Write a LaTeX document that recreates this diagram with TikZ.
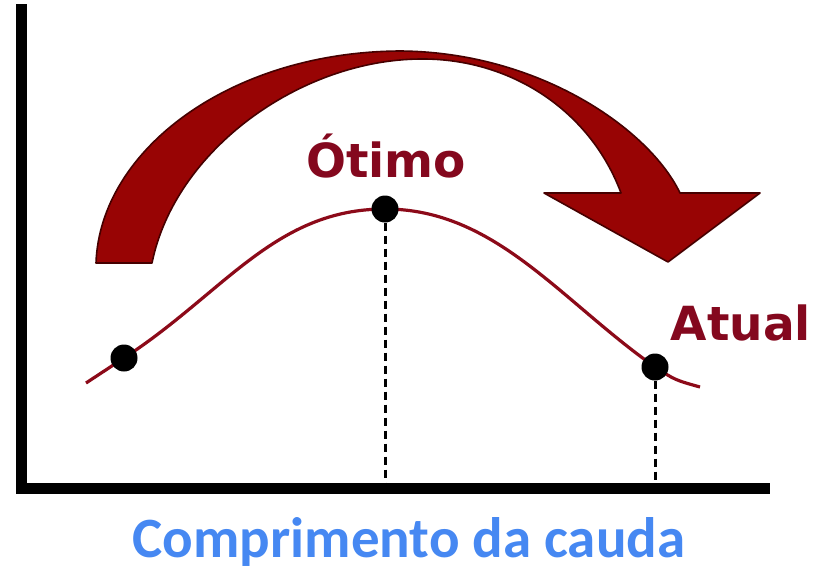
\documentclass[tikz,border=0pt]{standalone}
\usepackage{fontspec}
\usetikzlibrary{calc}
\newfontfamily\markfont{DejaVu Sans}
\newfontfamily\captfont{Carlito}
\definecolor{arrowred}{RGB}{152,4,4}
\definecolor{arrowedge}{RGB}{70,0,0}
\definecolor{curvered}{RGB}{140,10,25}
\definecolor{labelred}{RGB}{132,8,30}
\definecolor{captblue}{RGB}{70,136,242}

\begin{document}
\begin{tikzpicture}[x=1pt, y=-1pt]
\tikzset{
    dot/.style={circle, fill=black, minimum size=27pt, inner sep=0pt},
    axis/.style={line width=11pt, black},
    guide/.style={line width=3pt, dash pattern=on 8pt off 5pt},
    curve/.style={line width=3.2pt, curvered},
    mark label/.style={anchor=base, text=labelred, font=\markfont\bfseries\fontsize{47}{56}\selectfont}
}
\useasboundingbox (0,0) rectangle (826,570);

% --- Axes ---
\coordinate (top) at (21,4);
\coordinate (origin) at (21,488);
\coordinate (right) at (770,488);
\draw[axis] (top) -- (origin) -- (right);

% --- Big curved arrow ---
\draw[fill=arrowred, draw=arrowedge, line width=1.6pt, line join=round]
    (96,263) .. controls (100,150) and (230,52) .. (400,51)
    .. controls (540,52) and (650,130) .. (680,193)
    -- (760,193) -- (668,262) -- (544,193) -- (621,193)
    .. controls (590,110) and (510,58) .. (420,59)
    .. controls (300,60) and (175,150) .. (152,263) -- cycle;

% --- Curve and points ---
\coordinate (start) at (86,383);
\coordinate (p1) at (124,358);
\coordinate (p2) at (385,209);
\coordinate (p3) at (655,367);
\coordinate (stop) at (700,387);

\draw[curve] (start) -- (p1)
    .. controls (224,293) and (275,209) .. (p2)
    .. controls (495,209) and (560,300) .. (p3)
    .. controls (675,380) .. (stop);

\node (d1) at (p1) [dot] {};
\node (d2) at (p2) [dot] {};
\node (d3) at (p3) [dot] {};

\draw[guide] (d2) -- (d2 |- origin);
\draw[guide] (d3) -- (d3 |- origin);

% --- Labels ---
\node (otimo) at (386,177) [mark label] {Ótimo};
\node (atual) at (741,340) [mark label] {Atual};
\node (eixo) at (409,557) [anchor=base, text=captblue, font=\captfont\bfseries\fontsize{57}{66}\selectfont] {Comprimento da cauda};

\end{tikzpicture}
\end{document}
